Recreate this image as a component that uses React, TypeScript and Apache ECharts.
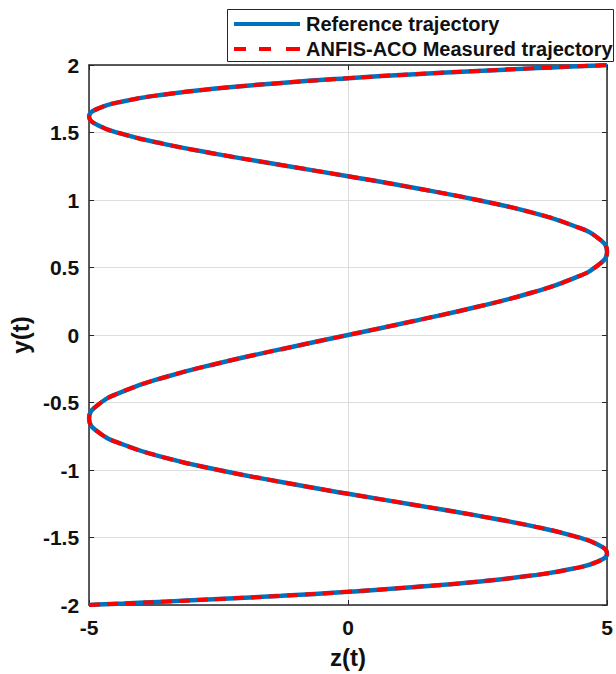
import React, { useEffect, useRef } from "react";
import * as echarts from "echarts";

// Reference trajectory: z(t) and y(t)
const refZ = [
  -5, -4.83, -4.33, -3.54, -2.5, -1.29, 0, 1.29, 2.5, 3.54, 4.33, 4.83, 5, 4.83, 4.33, 3.54, 2.5, 1.29, 0, -1.29,
  -2.5, -3.54, -4.33, -4.83, -5, -4.83, -4.33, -3.54, -2.5, -1.29,
  0, 1.29, 2.5, 3.54, 4.33, 4.83, 5, 4.83, 4.33, 3.54, 2.5, 1.29, 0, -1.29, -2.5, -3.54, -4.33, -4.83, -5, -4.83,
  -4.33, -3.54, -2.5, -1.29, 0, 1.29, 2.5, 3.54, 4.33, 4.83, 5,
];
const refY = [
  -2.0, -1.997, -1.989, -1.975, -1.956, -1.932, -1.902, -1.867, -1.827, -1.782, -1.732, -1.677, -1.618, -1.554,
  -1.486, -1.414, -1.338, -1.259, -1.176, -1.089, -1.0, -0.908, -0.813, -0.717, -0.618, -0.518, -0.416, -0.313,
  -0.209, -0.105,
  0, 0.105, 0.209, 0.313, 0.416, 0.518, 0.618, 0.717, 0.813, 0.908, 1.0, 1.089, 1.176, 1.259, 1.338, 1.414, 1.486,
  1.554, 1.618, 1.677, 1.732, 1.782, 1.827, 1.867, 1.902, 1.932, 1.956, 1.975, 1.989, 1.997, 2.0,
];
// ANFIS-ACO measured trajectory (visually identical to the reference)
const measZ = refZ.slice();
const measY = refY.slice();

const seriesNames = ["Reference trajectory", "ANFIS-ACO Measured trajectory"];
const seriesColors = ["#0072BD", "#FF0000"];
const xTicks = [-5, 0, 5];
const yTicks = [-2, -1.5, -1, -0.5, 0, 0.5, 1, 1.5, 2];

const FONT = "Liberation Sans, Arial, sans-serif";
const AXIS_COLOR = "#262626";

export default function App() {
  const ref = useRef<HTMLDivElement>(null);
  useEffect(() => {
    if (!ref.current) return;
    const chart = echarts.init(ref.current, undefined, { renderer: "svg" });
    const refData = refZ.map((z, i) => [z, refY[i]]);
    const measData = measZ.map((z, i) => [z, measY[i]]);
    const commonX = {
      type: "value" as const,
      min: xTicks[0],
      max: xTicks[xTicks.length - 1],
      interval: 5,
    };
    const commonY = {
      type: "value" as const,
      min: yTicks[0],
      max: yTicks[yTicks.length - 1],
      interval: 0.5,
    };
    const legendText = {
      fontFamily: FONT,
      fontWeight: "bold",
      fontSize: 20,
      fill: "#111",
      verticalAlign: "middle",
    };
    const dashSegs = [
      [234, 246],
      [259, 271],
      [286, 300],
    ];
    chart.setOption({
      animation: false,
      backgroundColor: "#ffffff",
      grid: { left: 88, right: 9, top: 65, bottom: 65, containLabel: false },
      graphic: [
        {
          type: "rect",
          z: 100,
          shape: { x: 227.5, y: 9.5, width: 386, height: 52 },
          style: { fill: "#ffffff", stroke: AXIS_COLOR, lineWidth: 1 },
        },
        {
          type: "line",
          z: 101,
          shape: { x1: 234, y1: 24, x2: 300, y2: 24 },
          style: { stroke: seriesColors[0], lineWidth: 4 },
        },
        ...dashSegs.map((s) => ({
          type: "line",
          z: 101,
          shape: { x1: s[0], y1: 49, x2: s[1], y2: 49 },
          style: { stroke: seriesColors[1], lineWidth: 4 },
        })),
        {
          type: "text",
          z: 101,
          x: 306,
          y: 24,
          style: { ...legendText, text: seriesNames[0] },
        },
        {
          type: "text",
          z: 101,
          x: 306,
          y: 49,
          style: { ...legendText, text: seriesNames[1] },
        },
      ],
      xAxis: [
        {
          ...commonX,
          position: "bottom",
          name: "z(t)",
          nameLocation: "middle",
          nameGap: 40,
          nameTextStyle: { fontFamily: FONT, fontWeight: "bold", fontSize: 24, color: "#111" },
          axisLine: { show: true, onZero: false, lineStyle: { color: AXIS_COLOR, width: 1.5 } },
          axisTick: { show: true, inside: true, length: 5, lineStyle: { color: AXIS_COLOR } },
          axisLabel: {
            fontFamily: FONT,
            fontWeight: "bold",
            fontSize: 21,
            color: "#111",
            margin: 12,
            formatter: (v: number) => String(v),
          },
          splitLine: { show: true, lineStyle: { color: "#dddddd", width: 1 } },
        },
        {
          ...commonX,
          position: "top",
          axisLine: { show: true, onZero: false, lineStyle: { color: AXIS_COLOR, width: 1.5 } },
          axisTick: { show: true, inside: true, length: 5, lineStyle: { color: AXIS_COLOR } },
          axisLabel: { show: false },
          splitLine: { show: false },
        },
      ],
      yAxis: [
        {
          ...commonY,
          position: "left",
          name: "y(t)",
          nameLocation: "middle",
          nameGap: 52,
          nameRotate: 90,
          nameTextStyle: { fontFamily: FONT, fontWeight: "bold", fontSize: 24, color: "#111" },
          axisLine: { show: true, onZero: false, lineStyle: { color: AXIS_COLOR, width: 1.5 } },
          axisTick: { show: true, inside: true, length: 5, lineStyle: { color: AXIS_COLOR } },
          axisLabel: {
            fontFamily: FONT,
            fontWeight: "bold",
            fontSize: 21,
            color: "#111",
            margin: 10,
            formatter: (v: number) => String(v),
          },
          splitLine: { show: true, lineStyle: { color: "#dddddd", width: 1 } },
        },
        {
          ...commonY,
          position: "right",
          axisLine: { show: true, onZero: false, lineStyle: { color: AXIS_COLOR, width: 1.5 } },
          axisTick: { show: true, inside: true, length: 5, lineStyle: { color: AXIS_COLOR } },
          axisLabel: { show: false },
          splitLine: { show: false },
        },
      ],
      series: [
        {
          name: seriesNames[0],
          type: "line",
          xAxisIndex: 0,
          yAxisIndex: 0,
          data: refData,
          smooth: 0.5,
          symbol: "none",
          showSymbol: false,
          lineStyle: { color: seriesColors[0], width: 4.5, type: "solid" },
          itemStyle: { color: seriesColors[0] },
          z: 2,
        },
        {
          name: seriesNames[1],
          type: "line",
          xAxisIndex: 0,
          yAxisIndex: 0,
          data: measData,
          smooth: 0.5,
          symbol: "none",
          showSymbol: false,
          lineStyle: { color: seriesColors[1], width: 4, type: [11, 7] },
          itemStyle: { color: seriesColors[1] },
          z: 3,
        },
      ],
    });
    return () => chart.dispose();
  }, []);
  return (
    <div
      ref={ref}
      style={{ position: "absolute", left: 0, top: 0, width: 616, height: 674, background: "#fff" }}
    />
  );
}
